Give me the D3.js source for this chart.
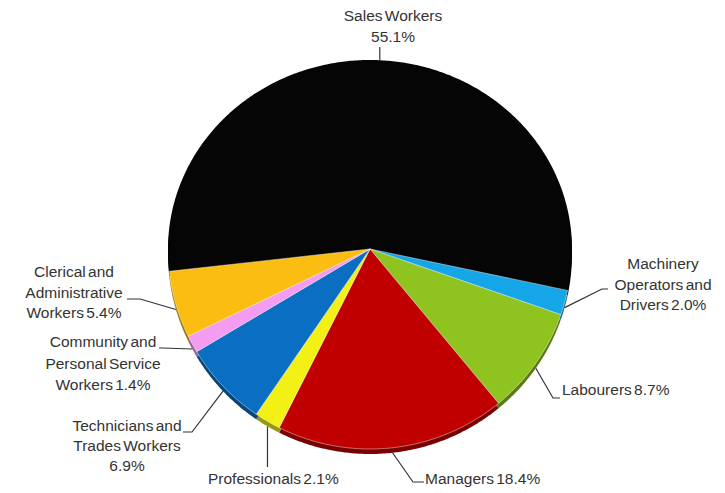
<!DOCTYPE html>
<html>
<head>
<meta charset="utf-8">
<script src="https://cdn.jsdelivr.net/npm/d3@7/dist/d3.min.js"></script>
<style>
  html, body { margin: 0; padding: 0; background: #fff; }
  svg { display: block; }
  .lbl { font-family: "Liberation Sans", Arial, sans-serif; font-size: 15.5px; fill: #333; word-spacing: -2px; }
  .leader { fill: none; stroke: #333; stroke-width: 1.2; }
</style>
</head>
<body>
<svg id="chart" width="725" height="493"></svg>
<script>
// Occupation shares (%), listed clockwise from the top slice
const categories = [
  "Sales Workers",
  "Machinery Operators and Drivers",
  "Labourers",
  "Managers",
  "Professionals",
  "Technicians and Trades Workers",
  "Community and Personal Service Workers",
  "Clerical and Administrative Workers"
];
const values = [55.1, 2.0, 8.7, 18.4, 2.1, 6.9, 1.4, 5.4];
const colors = ["#050505", "#14a6e6", "#8fc31f", "#c00000", "#f2f014", "#0a6fc2", "#f49cf2", "#fbbd12"];
// Label text, one entry per line
const labelLines = [
  ["Sales Workers", "55.1%"],
  ["Machinery", "Operators and", "Drivers 2.0%"],
  ["Labourers 8.7%"],
  ["Managers 18.4%"],
  ["Professionals 2.1%"],
  ["Technicians and", "Trades Workers", "6.9%"],
  ["Community and", "Personal Service", "Workers 1.4%"],
  ["Clerical and", "Administrative", "Workers 5.4%"]
];

// Tilted-disc geometry: the near (lower) half is drawn slightly taller
const geo = { cx: 370, cy: 249, rx: 202, ryTop: 189, ryBot: 200, depth: 5 };

// Label placement: anchor point, text anchor, line height and leader elbows
const labelLayout = [
  { x: 393, y: 21, anchor: "middle", lh: 21, leader: [[null, 47]] },
  { x: 663, y: 269, anchor: "middle", lh: 20.5, leader: [[602, 289], [608, 289]] },
  { x: 562, y: 395, anchor: "start", lh: 20, leader: [[553, 398], [560, 398]] },
  { x: 425, y: 484, anchor: "start", lh: 20, leader: [[413, 482], [424, 482]] },
  { x: 208, y: 484, anchor: "start", lh: 20, leader: [[null, 467]] },
  { x: 127, y: 431, anchor: "middle", lh: 20, leader: [[192, 432], [183, 432]] },
  { x: 103, y: 347, anchor: "middle", lh: 21.5, leader: [[163, 348], [159, 348]] },
  { x: 74, y: 277, anchor: "middle", lh: 20.5, leader: [[140, 299], [127, 299]] }
];

const svg = d3.select("#chart");

const startAngle = -96.4 * Math.PI / 180;
const pie = d3.pie().sort(null).value(d => d)
  .startAngle(startAngle).endAngle(startAngle + 2 * Math.PI);
const arcs = pie(values);

// Point on the projected rim for an angle measured clockwise from 12 o'clock
function rim(a, dy = 0) {
  const c = Math.cos(a);
  const ry = c > 0 ? geo.ryTop : geo.ryBot;
  return [geo.cx + geo.rx * Math.sin(a), geo.cy - ry * c + dy];
}

function wedgePath(d, dy = 0) {
  const n = Math.max(4, Math.ceil((d.endAngle - d.startAngle) / 0.01));
  const pts = d3.range(n + 1).map(i => rim(d.startAngle + (d.endAngle - d.startAngle) * i / n, dy));
  return "M" + geo.cx + "," + (geo.cy + dy) + "L" + pts.map(p => p.join(",")).join("L") + "Z";
}

// Side wall: the pie repeated slightly lower in darker tones
svg.append("g").selectAll("path").data(arcs).join("path")
  .attr("d", d => wedgePath(d, geo.depth))
  .attr("fill", (d, i) => d3.color(colors[i]).darker(1.3));

// Top surface
svg.append("g").selectAll("path").data(arcs).join("path")
  .attr("d", d => wedgePath(d))
  .attr("fill", (d, i) => colors[i])
  .attr("stroke", (d, i) => i === 0 ? "none" : "rgba(255,255,255,0.55)")
  .attr("stroke-width", 0.8)
  .attr("stroke-linejoin", "round");

// Leader lines from each slice's rim midpoint
const leaderG = svg.append("g");
arcs.forEach((d, i) => {
  const mid = (d.startAngle + d.endAngle) / 2;
  const lower = Math.cos(mid) < 0;
  const p0 = rim(mid, lower ? geo.depth : 0);
  const pts = [p0].concat(labelLayout[i].leader.map(p => [p[0] === null ? p0[0] : p[0], p[1]]));
  leaderG.append("path").attr("class", "leader").attr("d", d3.line()(pts));
});

// Labels
const labelG = svg.append("g");
labelLines.forEach((lines, i) => {
  const L = labelLayout[i];
  const t = labelG.append("text").attr("class", "lbl")
    .attr("text-anchor", L.anchor);
  lines.forEach((s, j) => {
    t.append("tspan").attr("x", L.x).attr("y", L.y + j * L.lh).text(s);
  });
});
</script>
</body>
</html>
